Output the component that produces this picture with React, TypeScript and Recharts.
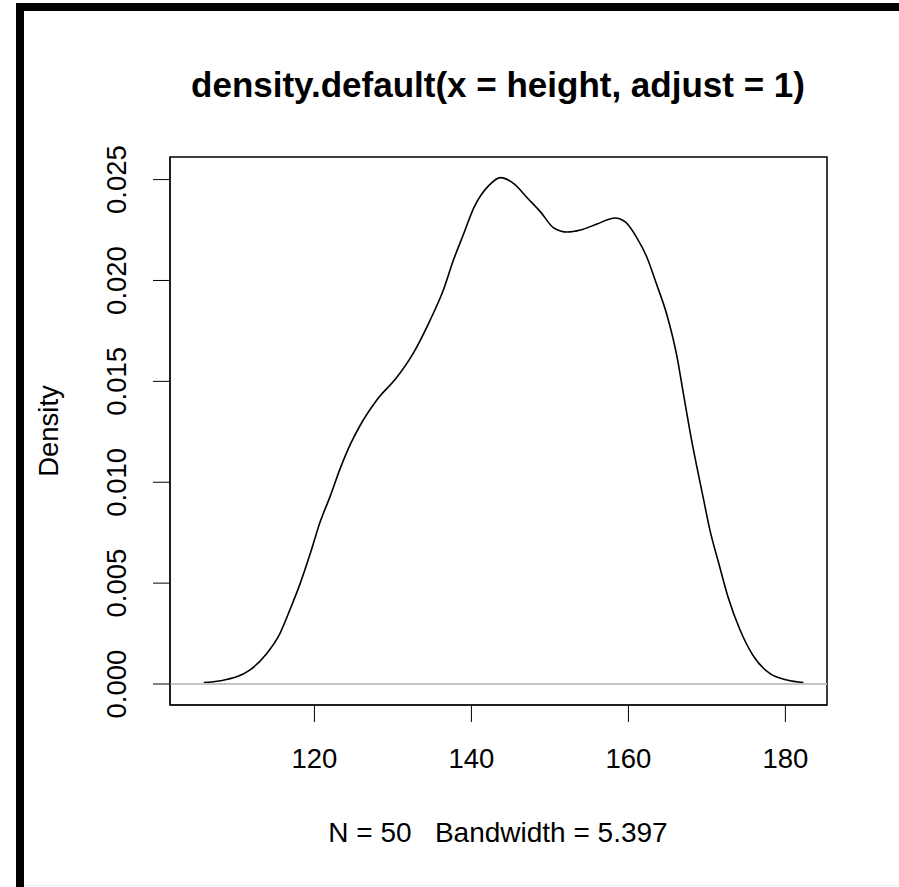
import {
  LineChart,
  Line,
  XAxis,
  YAxis,
  ReferenceLine,
  ReferenceArea,
} from "recharts";

// density estimate of height
const heights = [
  105.9, 108.0, 111.8, 113.9, 115.6, 116.9, 118.2, 119.5, 120.7, 122.0,
  123.3, 124.6, 125.8, 128.0, 130.5, 132.6, 134.7, 136.4, 137.7, 139.0,
  140.3, 142.2, 143.7, 145.4, 147.1, 148.8, 150.5, 152.2, 153.9, 156.0,
  158.3, 159.6, 161.1, 162.3, 163.6, 164.9, 166.2, 167.0, 167.9, 168.7,
  169.6, 170.4, 171.5, 172.7, 174.2, 175.9, 178.1, 180.2, 182.3,
];
const density = [
  0.00007, 0.00016, 0.0007, 0.0015, 0.0025, 0.0037, 0.005, 0.0065, 0.008, 0.0093,
  0.0107, 0.0119, 0.0128, 0.0141, 0.0152, 0.0164, 0.018, 0.0195, 0.021, 0.0223,
  0.0236, 0.0247, 0.0251, 0.0248, 0.0241, 0.0234, 0.0226, 0.0224, 0.0225, 0.0228,
  0.0231, 0.0229, 0.0221, 0.0212, 0.0198, 0.0183, 0.0162, 0.0144, 0.0124, 0.0108,
  0.0091, 0.0076, 0.006, 0.0043, 0.0027, 0.0014, 0.0005, 0.0002, 0.00007,
];
const xTicks = [120, 140, 160, 180];
const yTicks = [0, 0.005, 0.01, 0.015, 0.02, 0.025];
const xDomain = [101.6, 185.3];
const yDomain = [-0.00104, 0.02612];

const title = "density.default(x = height, adjust = 1)";
const subtitle = "N = 50   Bandwidth = 5.397";
const yLabel = "Density";

const data = heights.map((h, i) => ({ x: h, y: density[i] }));

const font = "'Liberation Sans', Arial, sans-serif";

function YTick(props: any) {
  const { x, y, payload } = props;
  const cx = x - 34;
  return (
    <text
      x={cx}
      y={y}
      transform={`rotate(-90 ${cx} ${y})`}
      textAnchor="middle"
      dominantBaseline="central"
      fill="#000"
      fontSize={27.5}
      fontFamily={font}
    >
      {payload.value.toFixed(3)}
    </text>
  );
}

export default function App() {
  return (
    <div
      style={{
        position: "absolute",
        left: 0,
        top: 0,
        width: 899,
        height: 887,
        background: "#fff",
      }}
    >
      {/* window frame */}
      <div style={{ position: "absolute", left: 16, top: 3, width: 883, height: 8, background: "#000" }} />
      <div style={{ position: "absolute", left: 16, top: 3, width: 8, height: 884, background: "#000" }} />
      <div style={{ position: "absolute", left: 24, top: 885, width: 875, height: 1, background: "#eee" }} />

      <LineChart
        width={899}
        height={887}
        data={data}
        margin={{ top: 157, right: 72, bottom: 122, left: 90 }}
      >
        <XAxis
          dataKey="x"
          type="number"
          domain={xDomain}
          ticks={xTicks}
          interval={0}
          allowDataOverflow
          height={60}
          tickSize={17}
          tickMargin={26}
          stroke="#000"
          tick={{ fill: "#000", fontSize: 27.5, fontFamily: font }}
        />
        <YAxis
          dataKey="y"
          type="number"
          domain={yDomain}
          ticks={yTicks}
          interval={0}
          allowDataOverflow
          width={80}
          tickSize={17}
          stroke="#000"
          tick={<YTick />}
        />
        <ReferenceArea
          x1={xDomain[0]}
          x2={xDomain[1]}
          y1={yDomain[0]}
          y2={yDomain[1]}
          fill="none"
          stroke="#000"
          strokeWidth={1.5}
          fillOpacity={0}
        />
        <Line
          type="monotone"
          dataKey="y"
          stroke="#000"
          strokeWidth={1.6}
          dot={false}
          isAnimationActive={false}
        />
        <ReferenceLine y={0} stroke="#c4c4c4" strokeWidth={2} />
      </LineChart>

      <svg
        width={899}
        height={887}
        style={{ position: "absolute", left: 0, top: 0, pointerEvents: "none" }}
      >
        <text x={498} y={97} textAnchor="middle" fontSize={35} fontWeight="bold" fontFamily={font} fill="#000">
          {title}
        </text>
        <text x={498} y={842} textAnchor="middle" fontSize={28} fontFamily={font} fill="#000" style={{ whiteSpace: "pre" }}>
          {subtitle}
        </text>
        <text
          x={58}
          y={431}
          transform="rotate(-90 58 431)"
          textAnchor="middle"
          fontSize={27.5}
          fontFamily={font}
          fill="#000"
        >
          {yLabel}
        </text>
      </svg>
    </div>
  );
}
